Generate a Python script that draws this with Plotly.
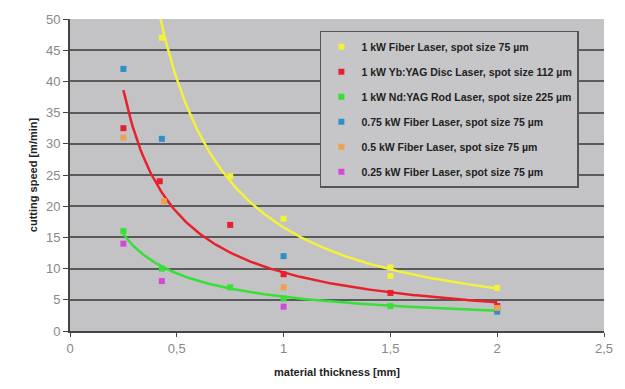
import numpy as np
import plotly.graph_objects as go

# ---- data ----
series_names = [
    "1 kW Fiber Laser, spot size 75 µm",
    "1 kW Yb:YAG Disc Laser, spot size 112 µm",
    "1 kW Nd:YAG Rod Laser, spot size 225 µm",
    "0.75 kW Fiber Laser, spot size 75 µm",
    "0.5 kW Fiber Laser, spot size 75 µm",
    "0.25 kW Fiber Laser, spot size 75 µm",
]
colors = ["#f2f23a", "#e8202c", "#36e036", "#2f8fc8", "#f0a050", "#d848d8"]

fiber1_x = [0.43, 0.75, 1.0, 1.5, 1.5, 2.0]
fiber1_y = [47.0, 24.8, 18.0, 10.2, 8.8, 6.9]
disc_x = [0.25, 0.42, 0.75, 1.0, 1.5, 2.0]
disc_y = [32.5, 24.0, 17.0, 9.1, 6.1, 4.0]
rod_x = [0.25, 0.43, 0.75, 1.0, 1.5, 2.0]
rod_y = [16.0, 10.0, 7.0, 5.2, 4.0, 3.4]
fiber075_x = [0.25, 0.43, 1.0, 2.0]
fiber075_y = [42.0, 30.8, 12.0, 3.1]
fiber05_x = [0.25, 0.44, 1.0, 2.0]
fiber05_y = [31.0, 20.8, 7.0, 3.7]
fiber025_x = [0.25, 0.43, 1.0]
fiber025_y = [14.0, 8.0, 3.9]

xs = [fiber1_x, disc_x, rod_x, fiber075_x, fiber05_x, fiber025_x]
ys = [fiber1_y, disc_y, rod_y, fiber075_y, fiber05_y, fiber025_y]
trend_series = [0, 1, 2]  # power-law trendlines drawn for the 1 kW lasers
trend_start = [0.40, 0.25, 0.25]

fig = go.Figure()

# power trendlines (fitted in log-log space, like a spreadsheet power trendline)
for i, x0 in zip(trend_series, trend_start):
    lx = np.log(np.array(xs[i]))
    ly = np.log(np.array(ys[i]))
    b, lna = np.polyfit(lx, ly, 1)
    tx = np.linspace(x0, max(xs[i]), 200)
    ty = np.exp(lna) * tx ** b
    fig.add_trace(go.Scatter(x=tx, y=ty, mode="lines",
                             line=dict(color=colors[i], width=2.5),
                             showlegend=False, hoverinfo="skip"))

for i in range(len(series_names)):
    fig.add_trace(go.Scatter(x=xs[i], y=ys[i], mode="markers", name=series_names[i],
                             legendgroup="g%d" % i,
                             marker=dict(color=colors[i], size=6, symbol="square",
                                         line=dict(width=0))))

grid = "#5a5a5a"
fig.update_layout(
    width=625, height=389,
    margin=dict(l=70, r=15, t=15, b=55),
    paper_bgcolor="white",
    plot_bgcolor="#c3c3c5",
    separators=", ",
    font=dict(family="Arial, Liberation Sans, sans-serif", color="#333"),
    showlegend=True,
    legend=dict(x=0.468, y=0.962, xanchor="left", yanchor="top",
                bgcolor="#c6c6c8", bordercolor="#555", borderwidth=1.5,
                font=dict(size=10.5, color="#222", weight="bold"),
                tracegroupgap=6, itemwidth=30),
    xaxis=dict(range=[0, 2.5], dtick=0.5, tick0=0, showgrid=False,
               showline=True, linecolor="#444", linewidth=2,
               ticks="outside", ticklen=4, tickcolor="#444",
               tickfont=dict(size=13, color="#888"), zeroline=False,
               title=dict(text="<b>material thickness [mm]</b>",
                          font=dict(size=11, color="#222"), standoff=14)),
    yaxis=dict(range=[0, 50], dtick=5, tick0=0, showgrid=True,
               gridcolor=grid, gridwidth=2,
               showline=True, linecolor="#444", linewidth=2,
               ticks="outside", ticklen=5, tickcolor="#444",
               tickfont=dict(size=13, color="#888"), zeroline=False,
               title=dict(text="<b>cutting speed [m/min]</b>",
                          font=dict(size=11, color="#222"), standoff=6)),
)

fig.write_html("out.html")
